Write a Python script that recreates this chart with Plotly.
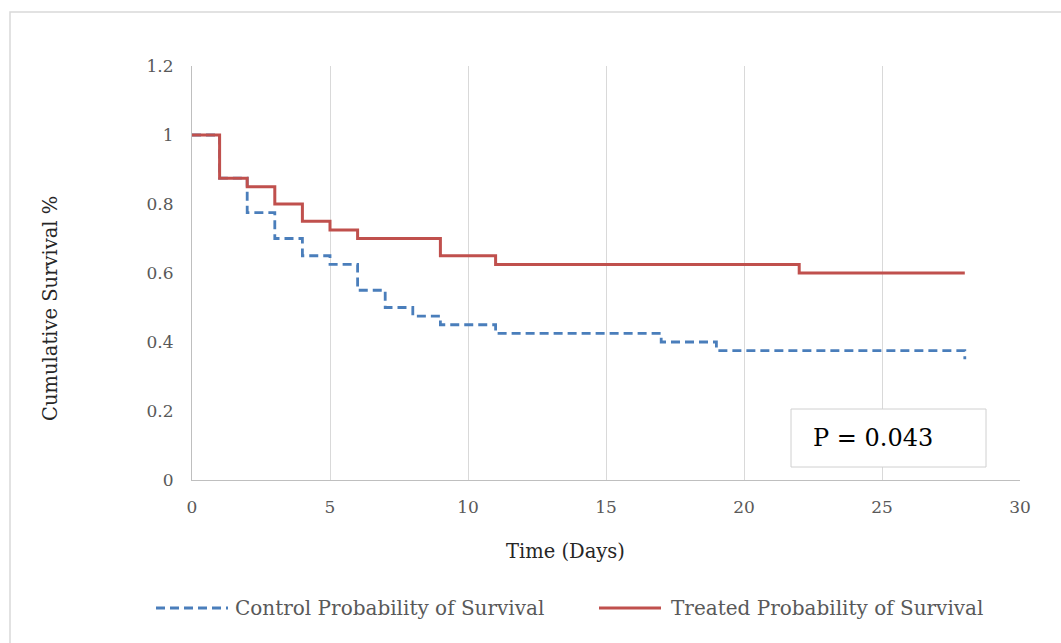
import plotly.graph_objects as go

# ---- data ----
control_days = [0, 1, 2, 3, 4, 5, 6, 7, 8, 9, 11, 17, 19, 28]
control_surv = [1, 0.875, 0.775, 0.7, 0.65, 0.625, 0.55, 0.5, 0.475, 0.45, 0.425, 0.4, 0.375, 0.35]
treated_days = [0, 1, 2, 3, 4, 5, 6, 9, 11, 22, 28]
treated_surv = [1, 0.875, 0.85, 0.8, 0.75, 0.725, 0.7, 0.65, 0.625, 0.6, 0.6]
x_ticks = [0, 5, 10, 15, 20, 25, 30]
y_ticks = [0, 0.2, 0.4, 0.6, 0.8, 1, 1.2]
y_tick_labels = ["0", "0.2", "0.4", "0.6", "0.8", "1", "1.2"]
series_names = ["Control Probability of Survival", "Treated Probability of Survival"]
p_text = "P = 0.043"

BLUE = "#4A7EBB"
RED = "#C0504D"
FONT = "DejaVu Serif"
GRAY = "#595959"

W, H = 1061, 643
L, R, T, B = 192, 1020, 66, 480


def px(x):
    return (x - L) / (R - L)


def py(y):
    return (B - y) / (B - T)


fig = go.Figure()
fig.add_trace(go.Scatter(x=control_days, y=control_surv, mode="lines", line_shape="hv",
                         name=series_names[0],
                         line=dict(color=BLUE, width=2.8, dash="9px,5px")))
fig.add_trace(go.Scatter(x=treated_days, y=treated_surv, mode="lines", line_shape="hv",
                         name=series_names[1],
                         line=dict(color=RED, width=3)))

fig.update_layout(
    width=W, height=H,
    margin=dict(l=L, r=W - R, t=T, b=H - B),
    paper_bgcolor="white", plot_bgcolor="white",
    showlegend=False,
    font=dict(family=FONT, color=GRAY, size=13),
)
fig.update_xaxes(range=[0, 30], tickvals=x_ticks, showgrid=True, gridcolor="#D9D9D9", gridwidth=1,
                 showline=True, linecolor="#BFBFBF", linewidth=1, zeroline=False,
                 ticks="outside", ticklen=12, tickcolor="rgba(0,0,0,0)",
                 tickfont=dict(family=FONT, size=17, color=GRAY))
fig.update_yaxes(range=[0, 1.2], tickvals=y_ticks, ticktext=y_tick_labels, showgrid=False,
                 showline=True, linecolor="#BFBFBF", linewidth=1, zeroline=False,
                 ticks="outside", ticklen=14, tickcolor="rgba(0,0,0,0)",
                 tickfont=dict(family=FONT, size=17, color=GRAY))

shapes = []
# outer chart border
shapes.append(dict(type="rect", xref="paper", yref="paper",
                   x0=px(10), x1=px(1075), y0=py(660), y1=py(12),
                   line=dict(color="#D9D9D9", width=1.5), fillcolor="rgba(0,0,0,0)", layer="below"))
# P value box
shapes.append(dict(type="rect", xref="paper", yref="paper",
                   x0=px(791), x1=px(986), y0=py(467), y1=py(409),
                   line=dict(color="#D0D0D0", width=1), fillcolor="white"))
# legend samples
shapes.append(dict(type="line", xref="paper", yref="paper", x0=px(156), x1=px(228), y0=py(608), y1=py(608),
                   line=dict(color=BLUE, width=2.8, dash="9px,5px")))
shapes.append(dict(type="line", xref="paper", yref="paper", x0=px(599), x1=px(661), y0=py(608), y1=py(608),
                   line=dict(color=RED, width=3)))
fig.update_layout(shapes=shapes)

ann = []
ann.append(dict(text=p_text, xref="paper", yref="paper", x=px(811), y=py(438), xanchor="left", yanchor="middle",
                showarrow=False, font=dict(family=FONT, size=24, color="black")))
ann.append(dict(text=series_names[0], xref="paper", yref="paper", x=px(233), y=py(608), xanchor="left",
                yanchor="middle", showarrow=False, font=dict(family=FONT, size=20, color=GRAY)))
ann.append(dict(text=series_names[1], xref="paper", yref="paper", x=px(669), y=py(608), xanchor="left",
                yanchor="middle", showarrow=False, font=dict(family=FONT, size=20, color=GRAY)))
ann.append(dict(text="Time (Days)", xref="paper", yref="paper", x=px(565), y=py(551), xanchor="center",
                yanchor="middle", showarrow=False, font=dict(family=FONT, size=19.5, color="#262626")))
ann.append(dict(text="Cumulative Survival %", xref="paper", yref="paper", x=px(50), y=py(309), xanchor="center",
                yanchor="middle", textangle=-90, showarrow=False, font=dict(family=FONT, size=19.5, color="#262626")))
fig.update_layout(annotations=ann)

fig.write_html("out.html", config={"displayModeBar": False},
               post_script="document.body.style.margin='0';document.body.style.overflow='hidden';")
